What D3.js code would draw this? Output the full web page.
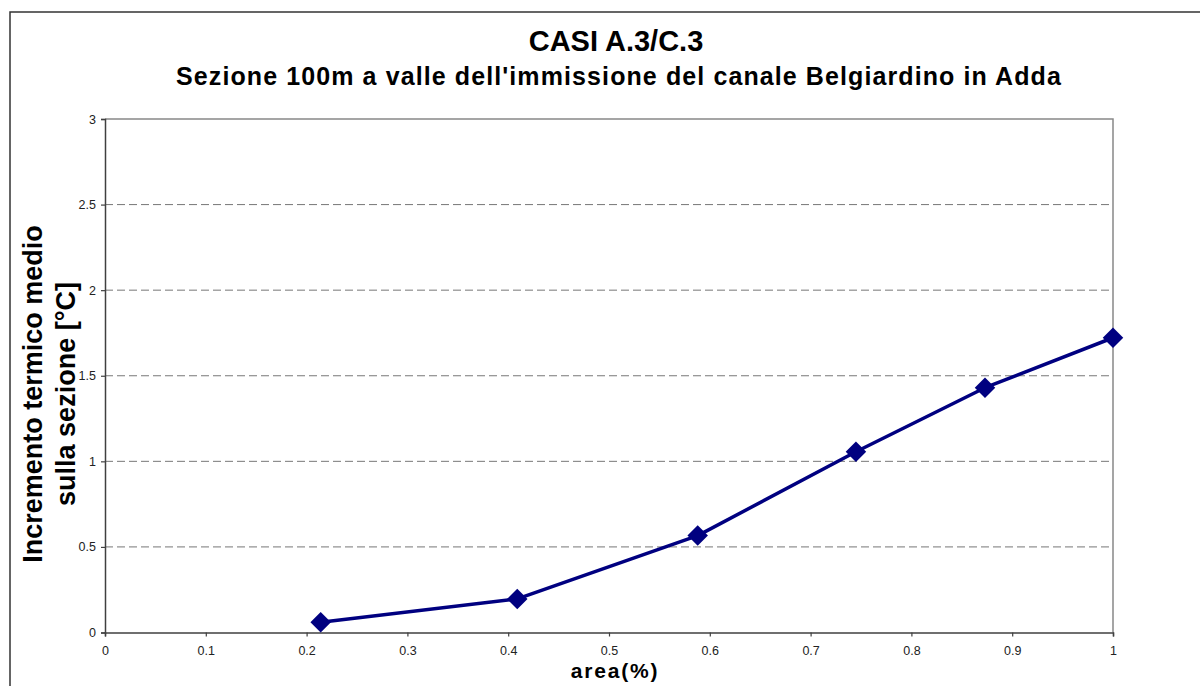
<!DOCTYPE html>
<html>
<head>
<meta charset="utf-8">
<script src="https://cdn.jsdelivr.net/npm/d3@7"></script>
<style>
	body { margin: 0; background: #fff; }
	svg { display: block; font-family: "Liberation Sans", Arial, sans-serif; }
</style>
</head>
<body>
<svg width="1200" height="686"></svg>
<script>
// values
var areaPct = [0.214, 0.409, 0.588, 0.745, 0.873, 1.0];
var deltaT  = [0.06, 0.196, 0.566, 1.056, 1.43, 1.722];

var xTickValues = [0, 0.1, 0.2, 0.3, 0.4, 0.5, 0.6, 0.7, 0.8, 0.9, 1];
var yTickValues = [0, 0.5, 1, 1.5, 2, 2.5, 3];

var titleText = "CASI A.3/C.3",
	subtitleText = "Sezione 100m a valle dell'immissione del canale Belgiardino in Adda",
	xLabel = "area(%)",
	yLabelLines = ["Incremento termico medio", "sulla sezione [°C]"];

function draw(){

	var svg = d3.select("svg");

	var plotLeft = 105, plotRight = 1113, plotTop = 119, plotBottom = 632.5;

	var x = d3.scaleLinear().domain([0, 1]).range([plotLeft, plotRight]);
	var y = d3.scaleLinear().domain([0, 3]).range([plotBottom, plotTop]);

	// outer chart frame (runs off the picture at right / bottom)
	svg.append("rect")
		.attr("x", 10).attr("y", 12)
		.attr("width", 1220).attr("height", 720)
		.attr("fill", "none")
		.attr("stroke", "#333")
		.attr("stroke-width", 1.5);

	// dashed grid
	svg.append("g")
		.selectAll("line")
		.data(yTickValues.filter(function(d){ return d > 0 && d < 3; }))
		.join("line")
		.attr("x1", plotLeft).attr("x2", plotRight)
		.attr("y1", function(d){ return y(d); })
		.attr("y2", function(d){ return y(d); })
		.attr("stroke", "#777")
		.attr("stroke-width", 1)
		.attr("stroke-dasharray", "8,4");

	// top & right plot border
	svg.append("path")
		.attr("d", "M" + plotLeft + "," + y(3) + "H" + x(1) + "V" + plotBottom)
		.attr("fill", "none")
		.attr("stroke", "#888")
		.attr("stroke-width", 1.5);

	// axes
	var xAxis = svg.append("g")
		.attr("transform", "translate(0," + plotBottom + ")")
		.call(d3.axisBottom(x).tickValues(xTickValues).tickSize(4).tickPadding(10)
			.tickFormat(function(d){ return d3.format("~g")(d); }));

	var yAxis = svg.append("g")
		.attr("transform", "translate(" + plotLeft + ",0)")
		.call(d3.axisLeft(y).tickValues(yTickValues).tickSize(4).tickPadding(5)
			.tickFormat(function(d){ return d3.format("~g")(d); }));

	[xAxis, yAxis].forEach(function(g){
		g.select(".domain").attr("stroke", "#404040").attr("stroke-width", 1.5);
		g.selectAll(".tick line").attr("stroke", "#404040").attr("stroke-width", 1.2);
		g.selectAll(".tick text")
			.attr("fill", "#222")
			.style("font-size", "12.5px")
			.style("font-family", "'Liberation Sans', Arial, sans-serif");
	});

	// series line
	var line = d3.line()
		.x(function(d){ return x(d[0]); })
		.y(function(d){ return y(d[1]); });

	var pts = d3.zip(areaPct, deltaT);

	svg.append("path")
		.datum(pts)
		.attr("d", line)
		.attr("fill", "none")
		.attr("stroke", "#000080")
		.attr("stroke-width", 3.5)
		.attr("stroke-linejoin", "round");

	svg.append("g")
		.selectAll("path")
		.data(pts)
		.join("path")
		.attr("d", d3.symbol().type(d3.symbolSquare).size(210))
		.attr("transform", function(d){ return "translate(" + x(d[0]) + "," + y(d[1]) + ") rotate(45)"; })
		.attr("fill", "#000080");

	// titles
	svg.append("text")
		.attr("x", 616).attr("y", 51)
		.attr("text-anchor", "middle")
		.style("font-size", "29px").style("font-weight", "bold")
		.text(titleText);

	svg.append("text")
		.attr("x", 619).attr("y", 85)
		.attr("text-anchor", "middle")
		.style("font-size", "25px").style("font-weight", "bold")
		.style("letter-spacing", "1.1px")
		.text(subtitleText);

	svg.append("text")
		.attr("x", 615).attr("y", 678)
		.attr("text-anchor", "middle")
		.style("font-size", "21px").style("font-weight", "bold")
		.style("letter-spacing", "1.8px")
		.text(xLabel);

	svg.append("g")
		.attr("transform", "translate(0,394) rotate(-90)")
		.selectAll("text")
		.data(yLabelLines)
		.join("text")
		.attr("x", 0)
		.attr("y", function(d, i){ return 42 + i * 33; })
		.attr("text-anchor", "middle")
		.style("font-size", "27px").style("font-weight", "bold")
		.text(function(d){ return d; });
}

draw();
</script>
</body>
</html>
